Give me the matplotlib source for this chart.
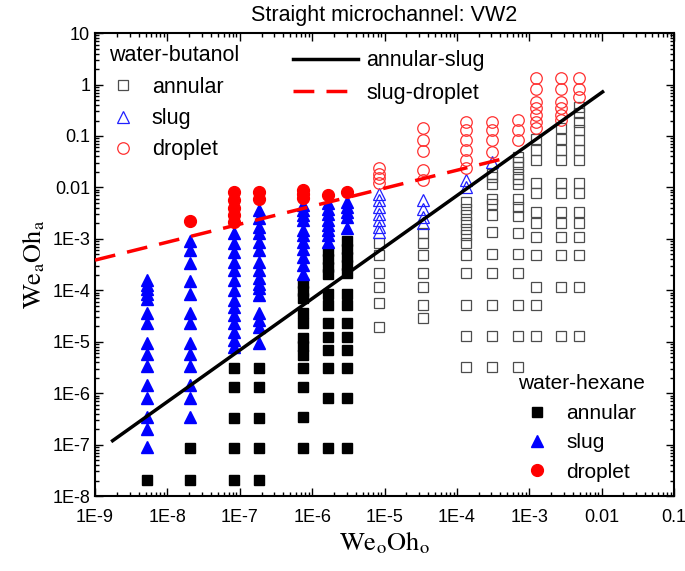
import numpy as np
import matplotlib.pyplot as plt
from matplotlib.ticker import LogLocator, NullFormatter

plt.rcParams['font.family'] = ['Liberation Sans', 'DejaVu Sans']
plt.rcParams['mathtext.fontset'] = 'stix'

# We_o Oh_o of each measurement column
hex_x = [5.2e-9, 2.05e-8, 8.3e-8, 1.86e-7, 7.4e-7, 1.66e-6, 3.0e-6]
but_x = [8.5e-6, 3.4e-5, 1.35e-4, 3.1e-4, 6.9e-4, 1.23e-3, 2.75e-3, 4.9e-3]

# log10(We_a Oh_a), one list per column
hex_annular = [[-7.68],
               [-7.07, -7.68],
               [-5.52, -5.88, -6.49, -7.07, -7.69],
               [-5.52, -5.88, -6.49, -7.07, -7.69],
               [-3.86, -4.02, -4.15, -4.44, -4.64, -4.93, -5.08, -5.26, -5.52, -5.88, -6.46, -7.07],
               [-3.24, -3.39, -3.55, -3.69, -4.07, -4.29, -4.64, -4.90, -5.16, -5.52, -6.10, -7.07],
               [-3.04, -3.20, -3.35, -3.51, -3.67, -4.07, -4.29, -4.64, -4.90, -5.16, -5.52, -6.10, -7.07]]
hex_slug = [[-3.80, -3.90, -3.98, -4.07, -4.17, -4.45, -4.63, -5.03, -5.24, -5.47, -5.84, -6.10, -6.46, -6.70, -7.05],
            [-3.04, -3.22, -3.47, -3.82, -4.07, -4.44, -4.63, -5.02, -5.24, -5.47, -5.84, -6.10, -6.46],
            [-2.89, -3.09, -3.25, -3.45, -3.61, -3.80, -4.00, -4.18, -4.32, -4.48, -4.64, -4.81, -4.97, -5.10],
            [-2.44, -2.60, -2.77, -2.89, -3.06, -3.22, -3.45, -3.61, -3.77, -3.87, -3.96, -4.09, -4.45, -4.58, -4.71, -5.03],
            [-2.34, -2.44, -2.54, -2.64, -2.83, -2.93, -3.06, -3.19, -3.35, -3.51, -3.69],
            [-2.31, -2.41, -2.51, -2.64, -2.73, -2.83, -2.93, -3.06],
            [-2.28, -2.38, -2.47, -2.57, -2.78]]
hex_droplet = [[],
               [-2.65],
               [-2.09, -2.25, -2.40, -2.54, -2.67],
               [-2.09, -2.23],
               [-2.05, -2.12, -2.21],
               [-2.15],
               [-2.09]]

but_annular = [[-3.08, -3.32, -3.67, -3.93, -4.25, -4.71],
               [-2.88, -3.08, -3.32, -3.67, -3.93, -4.29, -4.53],
               [-2.28, -2.41, -2.54, -2.67, -2.80, -2.93, -3.08, -3.32, -3.67, -4.29, -4.89, -5.49],
               [-1.73, -1.80, -1.94, -2.23, -2.32, -2.54, -2.86, -3.30, -3.67, -4.29, -4.89, -5.49],
               [-1.40, -1.50, -1.60, -1.73, -1.84, -1.94, -2.23, -2.38, -2.56, -2.88, -3.30, -3.67, -4.29, -4.89, -5.49],
               [-1.05, -1.27, -1.47, -1.92, -2.10, -2.47, -2.70, -2.96, -3.32, -3.93, -4.29, -4.89],
               [-0.85, -1.05, -1.27, -1.47, -1.92, -2.10, -2.47, -2.70, -2.96, -3.32, -3.93, -4.89],
               [-0.43, -0.56, -0.72, -0.89, -1.08, -1.27, -1.47, -1.92, -2.10, -2.47, -2.70, -2.96, -3.32, -3.93, -4.89]]
but_slug = [[-2.12, -2.25, -2.38, -2.51, -2.64, -2.77, -2.86],
            [-2.25, -2.41, -2.57, -2.70],
            [-1.86, -1.99],
            [-1.50],
            [], [], [], []]
but_droplet = [[-1.63, -1.73, -1.82, -1.92],
               [-0.85, -1.07, -1.29, -1.66, -1.86],
               [-0.72, -0.89, -1.07, -1.27, -1.47, -1.63],
               [-0.72, -0.89, -1.07, -1.31],
               [-0.69, -0.89, -1.08],
               [0.12, -0.08, -0.34, -0.46, -0.59, -0.72, -0.85],
               [0.12, -0.08, -0.34, -0.46, -0.59, -0.69],
               [0.12, -0.08, -0.24]]

# transition lines (end points)
as_x = [1.75e-9, 1.03e-2]
as_y = [1.19e-7, 0.72]
sd_x = [1e-9, 5.6e-4]
sd_y = [3.86e-4, 0.0394]

x_ticks = [1e-9, 1e-8, 1e-7, 1e-6, 1e-5, 1e-4, 1e-3, 1e-2, 1e-1]
x_labels = ['1E-9', '1E-8', '1E-7', '1E-6', '1E-5', '1E-4', '1E-3', '0.01', '0.1']
y_ticks = [1e-8, 1e-7, 1e-6, 1e-5, 1e-4, 1e-3, 1e-2, 1e-1, 1, 10]
y_labels = ['1E-8', '1E-7', '1E-6', '1E-5', '1E-4', '1E-3', '0.01', '0.1', '1', '10']


def columns(xs, cols):
    # flatten column lists into x, y arrays
    px, py = [], []
    for x, ys in zip(xs, cols):
        for v in ys:
            px.append(x)
            py.append(10 ** v)
    return px, py


fig = plt.figure(figsize=(6.85, 5.71), dpi=100)
ax = fig.add_axes([0.1387, 0.1313, 0.8453, 0.8107])
ax.set_xscale('log')
ax.set_yscale('log')

# water-butanol (open)
x, y = columns(but_x, but_annular)
b_ann, = ax.plot(x, y, 's', ls='none', ms=6.5, mfc='none', mec='#4d4d4d', mew=0.9)
x, y = columns(but_x, but_slug)
b_slug, = ax.plot(x, y, '^', ls='none', ms=9, mfc='none', mec='#2020ff', mew=0.9)
x, y = columns(but_x, but_droplet)
b_drop, = ax.plot(x, y, 'o', ls='none', ms=8.3, mfc='none', mec='#ff3030', mew=0.9)

# water-hexane (filled)
x, y = columns(hex_x, hex_annular)
h_ann, = ax.plot(x, y, 's', ls='none', ms=7, color='black')
x, y = columns(hex_x, hex_slug)
h_slug, = ax.plot(x, y, '^', ls='none', ms=9, color='#0000ff')
x, y = columns(hex_x, hex_droplet)
h_drop, = ax.plot(x, y, 'o', ls='none', ms=8.5, color='#ff0000')

l_as, = ax.plot(as_x, as_y, '-', color='black', lw=2.5, zorder=5)
l_sd, = ax.plot(sd_x, sd_y, color='#ff0000', lw=2.5, dashes=(6, 3.5), zorder=5)

ax.set_xlim(1e-9, 0.1)
ax.set_ylim(1e-8, 10)
ax.set_xticks(x_ticks, x_labels)
ax.set_yticks(y_ticks, y_labels)
ax.xaxis.set_minor_locator(LogLocator(base=10, subs=np.arange(2, 10), numticks=20))
ax.yaxis.set_minor_locator(LogLocator(base=10, subs=np.arange(2, 10), numticks=20))
ax.xaxis.set_minor_formatter(NullFormatter())
ax.yaxis.set_minor_formatter(NullFormatter())
ax.tick_params(which='both', direction='in', top=True, right=True, labelsize=13, width=1)
ax.tick_params(which='major', length=6)
ax.tick_params(which='minor', length=3)
ax.tick_params(axis='x', which='major', pad=9)
for s in ax.spines.values():
    s.set_linewidth(1.5)

ax.set_xlabel(r'$\mathrm{We_oOh_o}$', fontsize=19, labelpad=3)
ax.set_ylabel(r'$\mathrm{We_aOh_a}$', fontsize=19, labelpad=4)
ax.set_title('Straight microchannel: VW2', fontsize=15.5, pad=9)

# legends
leg1 = ax.legend([b_ann, b_slug, b_drop], ['annular', 'slug', 'droplet'], title='water-butanol',
                 loc='upper left', bbox_to_anchor=(0.009, 0.992), frameon=False, fontsize=15.5,
                 title_fontsize=15.5, alignment='left', handlelength=1.3, handletextpad=0.7,
                 labelspacing=0.48, borderaxespad=0)
ax.add_artist(leg1)
leg2 = ax.legend([l_as, l_sd], ['annular-slug', 'slug-droplet'], loc='upper left',
                 bbox_to_anchor=(0.327, 0.982), frameon=False, fontsize=15.5, handlelength=3.0,
                 handletextpad=0.42, labelspacing=0.55, borderaxespad=0)
ax.add_artist(leg2)
leg3 = ax.legend([h_ann, h_slug, h_drop], ['annular', 'slug', 'droplet'], title='water-hexane',
                 loc='lower left', bbox_to_anchor=(0.717, 0.013), frameon=False, fontsize=15,
                 title_fontsize=15, alignment='left', handlelength=1.8, handletextpad=0.5,
                 labelspacing=0.5, borderaxespad=0)

fig.savefig('out.png', dpi=100)
